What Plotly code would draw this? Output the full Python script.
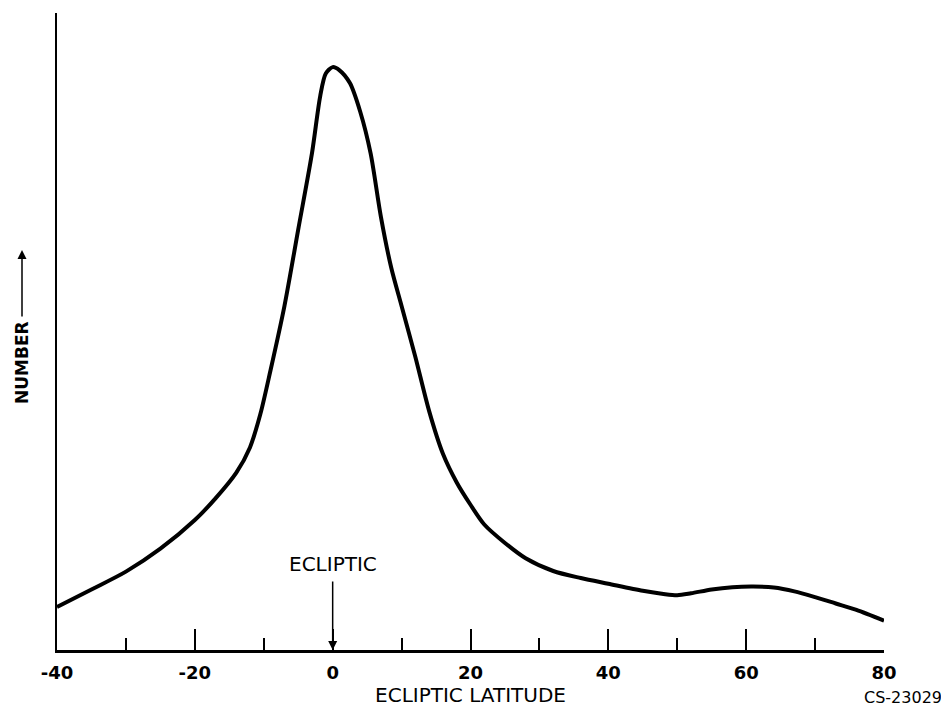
import plotly.graph_objects as go

# Ecliptic latitude (deg) and relative number (arbitrary units, axis top = 100)
latitude = [-40, -35, -30, -25, -20, -17, -14, -12, -10.5, -9, -7, -5, -3,
            -1.8, -1, 0, 1, 2.5, 4, 5.5, 7, 8.5, 10, 12, 14, 16, 18, 20, 22,
            25, 28, 32, 36, 40, 45, 48, 50, 52, 55, 58, 61, 64, 67, 70, 73,
            76, 80]
number = [6.75, 9.5, 12.3, 15.9, 20.4, 23.8, 27.8, 31.8, 37.0, 44.0, 54.0,
          66.0, 78.0, 87.0, 90.5, 91.5, 91.0, 89.0, 84.5, 78.0, 68.0, 60.0,
          54.0, 46.0, 37.5, 30.8, 26.3, 22.8, 19.7, 16.8, 14.4, 12.4, 11.3,
          10.4, 9.3, 8.8, 8.6, 8.9, 9.5, 9.85, 9.95, 9.8, 9.2, 8.3, 7.3,
          6.3, 4.6]

tick_vals = [-40, -20, 0, 20, 40, 60, 80]
tick_text = ["-40", "-20", "0", "20", "40", "60", "80"]

FONT = "DejaVu Sans"

# page has an 8px body margin; size the figure so the plot lands in place
OFF = 8
W, H = 949 - OFF, 712 - OFF
ML, MT = 57 - OFF, 13 - OFF
MB = H - (650 - OFF)
MR = W - (884 - OFF)
plot_w = W - ML - MR
plot_h = H - MT - MB


def px_to_paper(px, py):
    """page pixel -> paper coordinates"""
    return (px - OFF - ML) / plot_w, (H - MB - (py - OFF)) / plot_h


fig = go.Figure()
fig.add_trace(go.Scatter(
    x=latitude, y=number, mode="lines",
    line=dict(color="black", width=4, shape="spline", smoothing=0.8),
    hoverinfo="skip", showlegend=False,
))

fig.update_layout(
    width=W, height=H,
    margin=dict(l=ML, r=MR, t=MT, b=MB, autoexpand=False),
    paper_bgcolor="white", plot_bgcolor="white",
    font=dict(family=FONT, color="black", size=17),
    xaxis=dict(
        range=[-40, 80], showgrid=False, zeroline=False,
        showline=True, linecolor="black", linewidth=2.5,
        ticks="inside", ticklen=21, tickwidth=2, tickcolor="black",
        tickvals=tick_vals, ticktext=tick_text,
        tickfont=dict(family=FONT, size=18, color="black", weight="bold"),
        ticklabelstandoff=5,
        minor=dict(dtick=10, ticks="inside", ticklen=12, tickwidth=2,
                   tickcolor="black", showgrid=False),
        title=dict(text="ECLIPTIC LATITUDE",
                   font=dict(family=FONT, size=20, color="black"),
                   standoff=4),
    ),
    yaxis=dict(
        range=[0, 100], showgrid=False, zeroline=False,
        showline=True, linecolor="black", linewidth=2,
        showticklabels=False, ticks="",
    ),
)

# Ecliptic marker arrow
fig.add_annotation(
    x=0, y=0, xref="x", yref="y", text="ECLIPTIC",
    showarrow=True, ax=0, ay=-86, axref="pixel", ayref="pixel",
    arrowhead=2, arrowsize=1.2, arrowwidth=1.5, arrowcolor="black",
    standoff=0, startstandoff=4,
    font=dict(family=FONT, size=20, color="black"),
)

# Y label with upward arrow
nx, ny = px_to_paper(22, 363)
fig.add_annotation(
    x=nx, y=ny, xref="paper", yref="paper", text="NUMBER",
    xanchor="center", yanchor="middle", showarrow=False, textangle=-90,
    font=dict(family=FONT, size=17, color="black", weight="bold"),
)
hx, hy = px_to_paper(22, 250)
fig.add_annotation(
    x=hx, y=hy, xref="paper", yref="paper", ax=0, ay=68,
    axref="pixel", ayref="pixel", text="", showarrow=True,
    arrowhead=2, arrowsize=1.2, arrowwidth=1.5, arrowcolor="black",
    standoff=0,
)

# Figure identifier
cx, cy = px_to_paper(944, 697)
fig.add_annotation(
    x=cx, y=cy, xref="paper", yref="paper", text="CS-23029",
    xanchor="right", yanchor="middle", showarrow=False,
    font=dict(family=FONT, size=16, color="black"),
)

fig.write_html("out.html")
